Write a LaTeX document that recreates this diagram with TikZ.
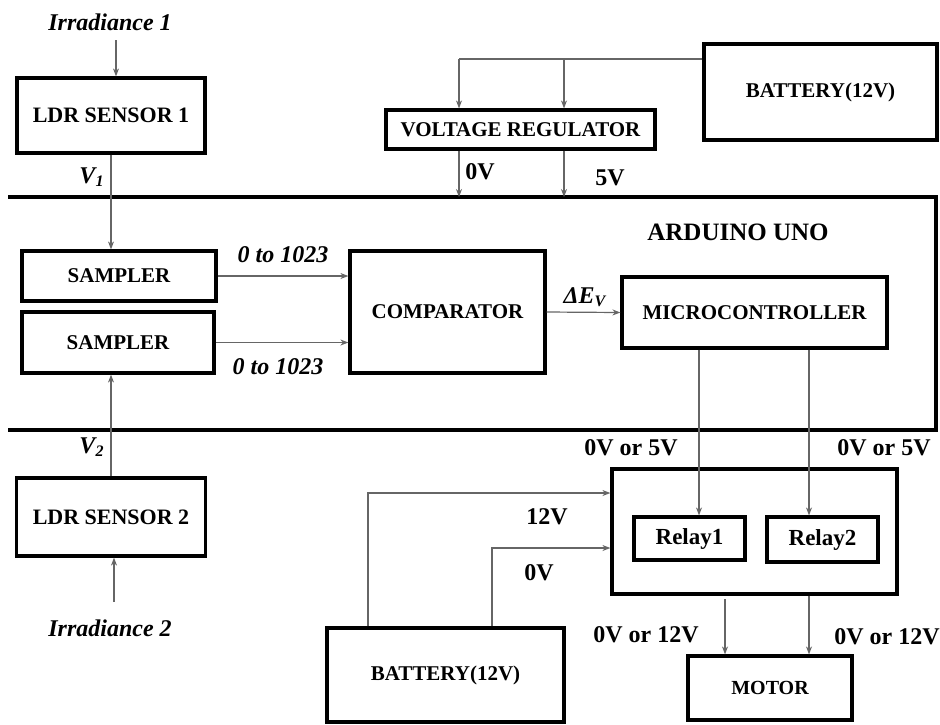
\documentclass[tikz,border=0pt]{standalone}
\usepackage{fontspec}
\setmainfont{Liberation Serif}
\usetikzlibrary{arrows.meta}

\begin{document}
\begin{tikzpicture}[x=0.5pt, y=-0.5pt,
    block/.style={draw, line width=1.6pt, inner sep=0pt, align=center, font=\bfseries\fontsize{10.5}{12}\selectfont},
    lbl/.style={inner sep=0pt, font=\bfseries\fontsize{12}{14}\selectfont},
    ilbl/.style={inner sep=0pt, font=\bfseries\itshape\fontsize{12}{14}\selectfont},
    wire/.style={draw=black!60, line width=0.6pt},
    arr/.style={wire, -{Stealth[length=4pt, width=3pt]}}]
    \useasboundingbox (0,0) rectangle (940,724);

    % Arduino board frame, open on the left side
    \coordinate (unoTop) at (0,197);
    \draw[line width=1.6pt] (8,197) -- (936,197) -- (936,430) -- (8,430);
    \node[lbl, font=\bfseries\fontsize{12.5}{14}\selectfont] (uno) at (738,232) {ARDUINO UNO};

    % Sensor side (left)
    \node[block, minimum width=94pt, minimum height=37.5pt, font=\bfseries\fontsize{11}{13}\selectfont] (ldrA) at (111,115.5) {LDR SENSOR 1};
    \node[block, minimum width=94.5pt, minimum height=39pt, font=\bfseries\fontsize{11}{13}\selectfont] (ldrB) at (111,517) {LDR SENSOR 2};
    \node[block, minimum width=97pt, minimum height=25pt] (sampA) at (119,276) {SAMPLER};
    \node[block, minimum width=96pt, minimum height=30.5pt] (sampB) at (118,342.5) {SAMPLER};
    \node[ilbl] (irrA) at (110,22) {Irradiance 1};
    \node[ilbl] (irrB) at (110,628) {Irradiance 2};
    \node[ilbl] (vA) at (92,177) {V\textsubscript{1}};
    \node[ilbl] (vB) at (92,447) {V\textsubscript{2}};

    % Processing blocks inside the board
    \node[block, minimum width=97.5pt, minimum height=61pt] (comp) at (447.5,312) {COMPARATOR};
    \node[block, minimum width=132.5pt, minimum height=35.5pt] (mc) at (754.5,312.5) {MICROCONTROLLER};
    \node[ilbl] (cntA) at (283,255) {0 to 1023};
    \node[ilbl] (cntB) at (278,367) {0 to 1023};
    \node[ilbl] (dE) at (585,297) {ΔE\textsubscript{V}};

    % Supply for the board
    \node[block, minimum width=134.5pt, minimum height=19.5pt] (vreg) at (520.5,129.5) {VOLTAGE REGULATOR};
    \node[block, minimum width=116.5pt, minimum height=48pt] (batA) at (820.5,92) {BATTERY(12V)};
    \node[lbl] (zA) at (480,172) {0V};
    \node[lbl] (fA) at (610,178) {5V};

    % Relay stage and motor
    \node[block, minimum width=142.5pt, minimum height=62.5pt] (relays) at (754.5,531.5) {};
    \node[block, minimum width=55.5pt, minimum height=21.5pt, font=\bfseries\fontsize{11.5}{13}\selectfont] (relA) at (689.5,538.5) {Relay1};
    \node[block, minimum width=55.5pt, minimum height=22.5pt, font=\bfseries\fontsize{11.5}{13}\selectfont] (relB) at (822.5,539.5) {Relay2};
    \node[block, minimum width=118.5pt, minimum height=47pt] (batB) at (445.5,675) {BATTERY(12V)};
    \node[block, minimum width=82pt, minimum height=32pt, font=\bfseries\fontsize{10}{12}\selectfont] (motor) at (770,688) {MOTOR};
    \node[lbl] (swA) at (631,448) {0V or 5V};
    \node[lbl] (swB) at (884,448) {0V or 5V};
    \node[lbl] (pA) at (547,517) {12V};
    \node[lbl] (pB) at (539,573) {0V};
    \node[lbl] (mA) at (646,635) {0V or 12V};
    \node[lbl] (mB) at (887,637) {0V or 12V};

    % Light inputs and sensor signals
    \coordinate (inA) at (116,40);
    \coordinate (inB) at (114,602);
    \draw[arr] (inA) -- (inA |- ldrA.north);
    \draw[arr] (inB) -- (inB |- ldrB.south);
    \draw[arr] (ldrA.south) -- (ldrA.south |- sampA.north);
    \draw[arr] (ldrB.north) -- (ldrB.north |- sampB.south);

    % Sampled values to comparator, difference to microcontroller
    \draw[arr] (sampA.east) -- (sampA.east -| comp.west);
    \draw[arr] (sampB.east) -- (sampB.east -| comp.west);
    \draw[arr] (comp.east) -- (mc.west);

    % Battery to regulator, regulator to board
    \coordinate (bus) at (batA.west |- 0,59);
    \coordinate (inV) at (459,59);
    \coordinate (inW) at (564,59);
    \draw[wire] (bus) -- (inV);
    \draw[arr] (inV) -- (inV |- vreg.north);
    \draw[arr] (inW) -- (inW |- vreg.north);
    \draw[arr] (inV |- vreg.south) -- (inV |- unoTop);
    \draw[arr] (inW |- vreg.south) -- (inW |- unoTop);

    % Control lines to the relays
    \coordinate (ctlA) at (699,0);
    \coordinate (ctlB) at (809,0);
    \draw[arr] (ctlA |- mc.south) -- (ctlA |- relA.north);
    \draw[arr] (ctlB |- mc.south) -- (ctlB |- relB.north);

    % Battery feed to relay stage
    \coordinate (posA) at (368,0);
    \coordinate (posB) at (492,0);
    \draw[arr] (posA |- batB.north) |- (relays.west |- 0,493);
    \draw[arr] (posB |- batB.north) |- (relays.west |- 0,548);

    % Relay outputs to motor
    \coordinate (outM) at (725,599);
    \draw[arr] (outM) -- (outM |- motor.north);
    \draw[arr] (ctlB |- relays.south) -- (ctlB |- motor.north);
\end{tikzpicture}
\end{document}
